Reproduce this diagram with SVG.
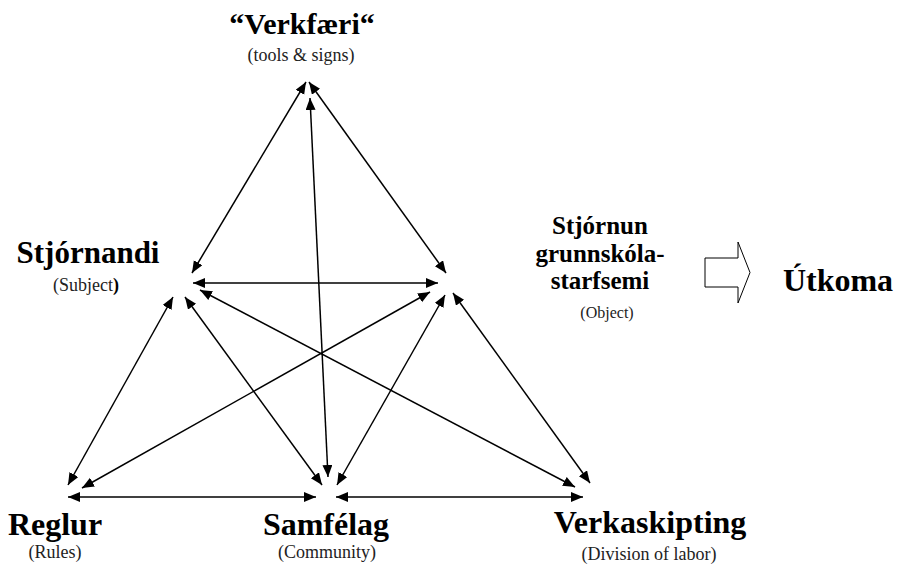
<svg xmlns="http://www.w3.org/2000/svg" width="901" height="567" viewBox="0 0 901 567">
<style>
.t{font-family:"Liberation Serif","Times New Roman",serif;font-weight:bold;fill:#000;text-anchor:middle}
.s{font-family:"Liberation Serif","Times New Roman",serif;fill:#222;text-anchor:middle}
.c{stroke:#000;stroke-width:1.5;fill:none;marker-start:url(#ah);marker-end:url(#ah)}
</style>
<defs>
<marker id="ah" markerUnits="userSpaceOnUse" markerWidth="14" markerHeight="12" refX="12" refY="5" orient="auto-start-reverse">
<path d="M0,0 L12,5 L0,10 z" fill="#000"/>
</marker>
</defs>
<rect width="901" height="567" fill="#fff"/>
<g id="connectors">
<line class="c" x1="306" y1="82" x2="192" y2="273"/>
<line class="c" x1="309" y1="82" x2="446" y2="273"/>
<line class="c" x1="310" y1="98" x2="328" y2="477"/>
<line class="c" x1="193" y1="283" x2="438" y2="283"/>
<line class="c" x1="173" y1="297" x2="68" y2="485"/>
<line class="c" x1="185" y1="297" x2="322" y2="485"/>
<line class="c" x1="200" y1="290" x2="575" y2="487"/>
<line class="c" x1="430" y1="292" x2="82" y2="488"/>
<line class="c" x1="445" y1="295" x2="337" y2="485"/>
<line class="c" x1="453" y1="293" x2="590" y2="483"/>
<line class="c" x1="68" y1="497" x2="316" y2="497"/>
<line class="c" x1="336" y1="497" x2="583" y2="497"/>
</g>
<g id="verkfaeri">
<text class="t" x="302" y="34" font-size="30">“Verkfæri“</text>
<text class="s" x="301" y="61" font-size="18">(tools &amp; signs)</text>
</g>
<g id="stjornandi">
<text class="t" x="88" y="263" font-size="31">Stjórnandi</text>
<text class="s" x="86" y="291" font-size="18">(Subject<tspan font-weight="bold" fill="#000">)</tspan></text>
</g>
<g id="object">
<text class="t" x="600" y="234" font-size="25">Stjórnun</text>
<text class="t" x="600" y="262" font-size="25">grunnskóla-</text>
<text class="t" x="600" y="289" font-size="25">starfsemi</text>
<text class="s" x="607" y="318" font-size="16">(Object)</text>
</g>
<g id="outcome-arrow">
<polygon points="705,258 738,258 738,242 750,272.5 738,303 738,287 705,287" fill="#fff" stroke="#000" stroke-width="1"/>
</g>
<g id="utkoma">
<text class="t" x="838" y="291" font-size="32">Útkoma</text>
</g>
<g id="reglur">
<text class="t" x="55" y="535" font-size="32">Reglur</text>
<text class="s" x="55" y="558" font-size="18">(Rules)</text>
</g>
<g id="samfelag">
<text class="t" x="326" y="535" font-size="32">Samfélag</text>
<text class="s" x="327" y="558" font-size="18">(Community)</text>
</g>
<g id="verkaskipting">
<text class="t" x="650" y="533" font-size="32">Verkaskipting</text>
<text class="s" x="649" y="560" font-size="18">(Division of labor)</text>
</g>
</svg>
